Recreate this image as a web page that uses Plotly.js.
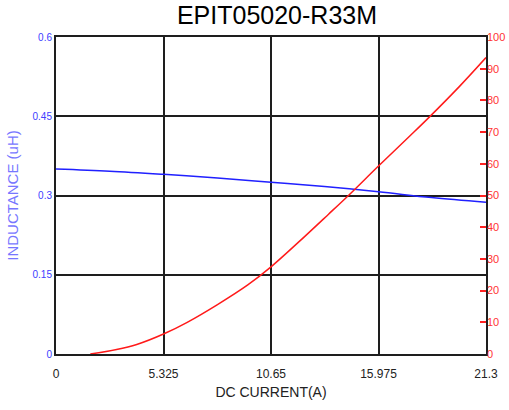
<!DOCTYPE html>
<html>
<head>
<meta charset="utf-8">
<script src="https://cdn.plot.ly/plotly-3.0.1.min.js"></script>
<style>html,body{margin:0;padding:0;background:#fff;}#chart{width:509px;height:410px;}</style>
</head>
<body>
<div id="chart"></div>
<script>
// Inductance vs DC current (left axis)
const currentL = [0, 2.66, 5.325, 8, 10.65, 13.3, 15.975, 18.6, 21.3];
const inductance = [0.350, 0.346, 0.340, 0.333, 0.325, 0.317, 0.307, 0.296, 0.287];
// Temperature rise vs DC current (right axis)
const currentT = [1.7, 3, 4, 5.325, 6.5, 8, 9.5, 10.65, 12, 13.5, 14.5, 15.975, 17.5, 18.44, 20, 21.3];
const tempRise = [0, 1.4, 3.0, 6.3, 10.0, 15.6, 21.8, 27.5, 35.2, 44.1, 50.1, 59.3, 68.6, 74.4, 84.5, 93.5];
const xTicks = [0, 5.325, 10.65, 15.975, 21.3];
const xTickText = ['0', '5.325', '10.65', '15.975', '21.3'];
const yTicks = [0, 0.15, 0.3, 0.45, 0.6];
const yTickText = ['0', '0.15', '0.3', '0.45', '0.6'];
const y2Ticks = [0, 10, 20, 30, 40, 50, 60, 70, 80, 90, 100];

const font = 'Arial, "Liberation Sans", sans-serif';
const data = [
  {x: currentL, y: inductance, type: 'scatter', mode: 'lines', line: {color: '#2020ff', width: 1.5, shape: 'spline'}, yaxis: 'y', hoverinfo: 'none'},
  {x: currentT, y: tempRise, type: 'scatter', mode: 'lines', line: {color: '#ff1a1a', width: 1.5, shape: 'spline', smoothing: 1}, yaxis: 'y2', hoverinfo: 'none'}
];
const layout = {
  width: 509, height: 410,
  margin: {l: 56, r: 23, t: 37, b: 56},
  paper_bgcolor: '#fff', plot_bgcolor: '#fff',
  showlegend: false,
  font: {family: font},
  title: {text: 'EPIT05020-R33M', font: {size: 25, color: '#000', family: font}, x: 277/509, xanchor: 'center', xref: 'container', y: 1 - 15/410, yanchor: 'middle', yref: 'container'},
  xaxis: {
    range: [0, 21.3], tickvals: xTicks, ticktext: xTickText,
    showgrid: true, gridcolor: '#1e1e1e', gridwidth: 2,
    showline: true, linecolor: '#1e1e1e', linewidth: 2, mirror: true,
    zeroline: false, ticks: '', ticklabelstandoff: 8,
    tickfont: {size: 12, color: '#222'},
    title: {text: 'DC CURRENT(A)', font: {size: 14, color: '#222'}, standoff: 7}
  },
  yaxis: {
    range: [0, 0.6], tickvals: yTicks, ticktext: yTickText,
    showgrid: true, gridcolor: '#1e1e1e', gridwidth: 2,
    showline: true, linecolor: '#1e1e1e', linewidth: 2, mirror: true,
    zeroline: false, ticks: '',
    tickfont: {size: 10, color: '#4040ff'},
    title: {text: 'INDUCTANCE (uH)', font: {size: 15, color: '#7777ff'}, standoff: 10}
  },
  yaxis2: {
    range: [0, 100], tickvals: y2Ticks, overlaying: 'y', side: 'right',
    showgrid: false, zeroline: false, showline: false,
    ticks: 'inside', ticklen: 6, tickwidth: 2, tickcolor: '#ff2222',
    tickfont: {size: 11, color: '#ff3333'}
  }
};
Plotly.newPlot('chart', data, layout, {staticPlot: true, displayModeBar: false});
</script>
</body>
</html>
